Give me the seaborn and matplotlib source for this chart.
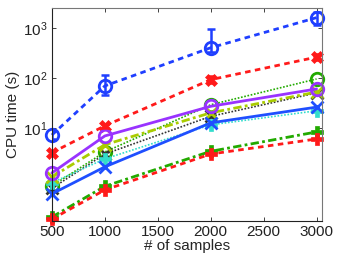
import numpy as np
import pandas as pd
import matplotlib
matplotlib.use("Agg")
import matplotlib.pyplot as plt
import seaborn as sns

samples = [500, 1000, 2000, 3000]

blue_circle = [7.2, 69, 400, 1600]
blue_circle_lo = [6.0, 46, 330, 1150]
blue_circle_hi = [8.5, 115, 950, 2100]
red_x = [3.2, 11, 92, 260]
red_x_lo = [2.9, 10, 78, 225]
red_x_hi = [3.5, 12, 108, 300]
purple_circle = [1.26, 6.9, 27, 60]
yellow_x = [1.05, 4.6, 20, 52]
green_circle = [0.69, 3.3, 29, 95]
black_x = [0.62, 3.0, 17, 50]
cyan_plus = [0.8, 2.4, 11.5, 22]
blue_x = [0.48, 1.66, 12.6, 26]
green_plus = [0.165, 0.68, 3.4, 8.3]
red_plus = [0.15, 0.575, 3.0, 6.0]

ytick_vals = [10, 100, 1000]
ytick_labels = [r"$10^1$", r"$10^2$", r"$10^3$"]
xtick_vals = [500, 1000, 1500, 2000, 2500, 3000]

series = [
    ("blue_circle", blue_circle, "#1f3fff", (2, 1.6), "o", 2.0),
    ("red_x", red_x, "#ff1a1a", (2, 1.6), "X", 2.0),
    ("green_circle", green_circle, "#22aa00", (1, 1), "o", 1.2),
    ("black_x", black_x, "#333333", (1, 1), "x", 1.2),
    ("cyan_plus", cyan_plus, "#33ddcc", (1, 1), "P", 1.2),
    ("yellow_x", yellow_x, "#aacc00", (3, 1.2, 1, 1.2), "x", 2.0),
    ("purple_circle", purple_circle, "#9933ff", "", "o", 2.0),
    ("blue_x", blue_x, "#1f4fff", "", "x", 2.0),
    ("green_plus", green_plus, "#22aa00", (3, 1.2, 1, 1.2), "P", 2.0),
    ("red_plus", red_plus, "#ff1a1a", (2, 1.6), "P", 2.0),
]

sns.set_theme(style="ticks")
plt.rcParams["font.family"] = ["Liberation Sans", "DejaVu Sans"]
plt.rcParams["mathtext.fontset"] = "custom"
plt.rcParams["mathtext.rm"] = "Liberation Sans"
plt.rcParams["mathtext.it"] = "Liberation Sans"

fig = plt.figure(figsize=(3.37, 2.56), dpi=100)
ax = fig.add_axes([0.154, 0.137, 0.801, 0.832])

for name, vals, color, dash, marker, lw in series:
    df = pd.DataFrame({"samples": samples, "time": vals})
    ms = 9 if marker == "o" else 8
    kw = dict(markerfacecolor="none", markeredgewidth=2) if marker == "o" else dict(markeredgewidth=0.5 if marker in ("X", "P") else 2)
    sns.lineplot(data=df, x="samples", y="time", ax=ax, color=color, linewidth=lw,
                 marker=marker, markersize=ms, markeredgecolor=color, **kw)
    line = ax.lines[-1]
    line.set_clip_on(False)
    if dash == "":
        line.set_linestyle("-")
    else:
        line.set_dashes(dash)

for vals, lo, hi, color in [(blue_circle, blue_circle_lo, blue_circle_hi, "#1f3fff"),
                            (red_x, red_x_lo, red_x_hi, "#ff1a1a")]:
    v = np.array(vals); yerr = [v - np.array(lo), np.array(hi) - v]
    ax.errorbar(samples, vals, yerr=yerr, fmt="none", ecolor=color, elinewidth=1.8, capsize=3, capthick=1.8)

ax.set_yscale("log")
ax.set_xlim(500, 3050)
ax.set_ylim(0.138, 2500)
ax.set_yticks(ytick_vals)
ax.set_yticklabels(ytick_labels)
ax.yaxis.set_minor_locator(matplotlib.ticker.NullLocator())
ax.set_xticks(xtick_vals)
ax.set_xticklabels([str(v) for v in xtick_vals])
ax.tick_params(direction="in", which="both", top=True, right=True, labelsize=11, length=3, width=0.6, colors="#222222", pad=3)
for s in ax.spines.values():
    s.set_linewidth(0.8)
    s.set_color("#777777")
ax.spines["left"].set_color("#222222")
ax.spines["bottom"].set_color("#222222")
ax.set_xlabel("# of samples", fontsize=11, labelpad=0)
ax.set_ylabel("CPU time (s)", fontsize=11, labelpad=2)

fig.savefig("out.png", dpi=100)
